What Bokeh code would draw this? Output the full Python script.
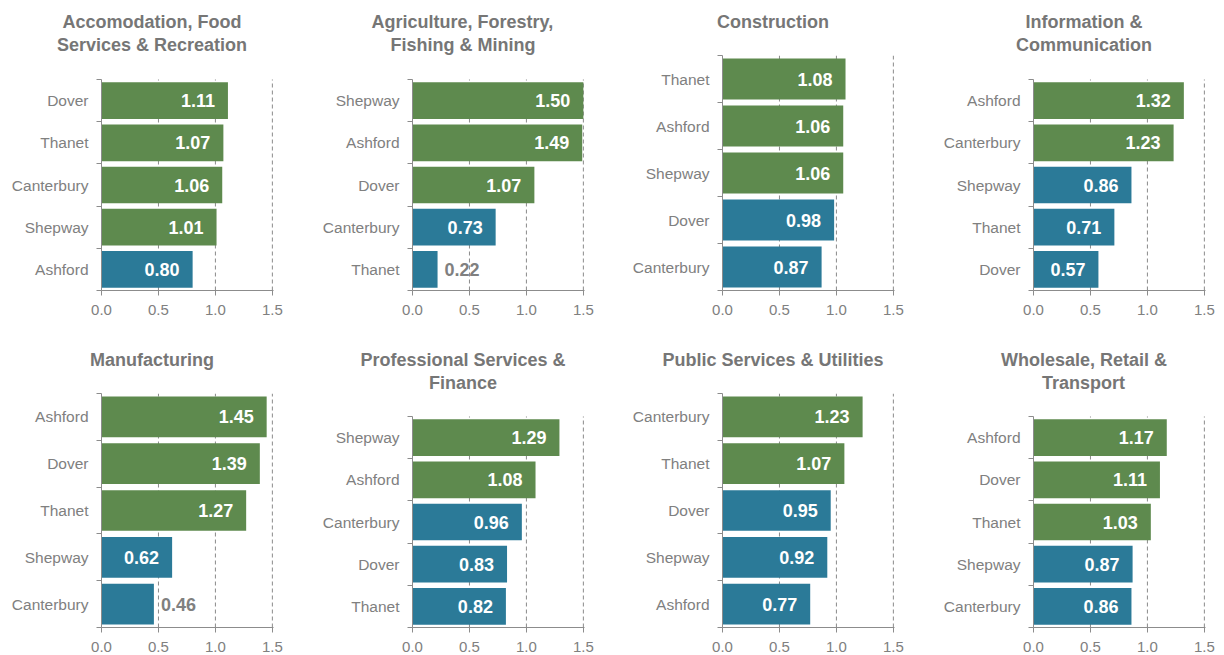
from bokeh.plotting import figure
from bokeh.layouts import row, column
from bokeh.models import Range1d, FixedTicker, PrintfTickFormatter, Title
from bokeh.embed import file_html
from bokeh.resources import INLINE
from bokeh.core.properties import value

# ---------------- data (location quotients by sector) ----------------
title_accom = ["Accomodation, Food", "Services & Recreation"]
districts_accom = ["Dover", "Thanet", "Canterbury", "Shepway", "Ashford"]
lq_accom = [1.11, 1.07, 1.06, 1.01, 0.80]

title_agri = ["Agriculture, Forestry,", "Fishing & Mining"]
districts_agri = ["Shepway", "Ashford", "Dover", "Canterbury", "Thanet"]
lq_agri = [1.50, 1.49, 1.07, 0.73, 0.22]

title_constr = ["Construction"]
districts_constr = ["Thanet", "Ashford", "Shepway", "Dover", "Canterbury"]
lq_constr = [1.08, 1.06, 1.06, 0.98, 0.87]

title_info = ["Information &", "Communication"]
districts_info = ["Ashford", "Canterbury", "Shepway", "Thanet", "Dover"]
lq_info = [1.32, 1.23, 0.86, 0.71, 0.57]

title_manu = ["Manufacturing"]
districts_manu = ["Ashford", "Dover", "Thanet", "Shepway", "Canterbury"]
lq_manu = [1.45, 1.39, 1.27, 0.62, 0.46]

title_prof = ["Professional Services &", "Finance"]
districts_prof = ["Shepway", "Ashford", "Canterbury", "Dover", "Thanet"]
lq_prof = [1.29, 1.08, 0.96, 0.83, 0.82]

title_public = ["Public Services & Utilities"]
districts_public = ["Canterbury", "Thanet", "Dover", "Shepway", "Ashford"]
lq_public = [1.23, 1.07, 0.95, 0.92, 0.77]

title_whole = ["Wholesale, Retail &", "Transport"]
districts_whole = ["Ashford", "Dover", "Thanet", "Shepway", "Canterbury"]
lq_whole = [1.17, 1.11, 1.03, 0.87, 0.86]

x_ticks = [0.0, 0.5, 1.0, 1.5]
grid_ticks = [0.5, 1.0, 1.5]

# ---------------- style ----------------
GREEN = "#5E8A4E"
BLUE = "#2B7A98"
GREY_TXT = "#808080"
TITLE_C = "#767676"
AXIS_C = "#8C8C8C"
GRID_C = "#8A8A8A"
FONT = "Liberation Sans"
TITLE_SIZE = 18

# Arial/Liberation Sans Bold advance widths (per 1000 em) for centring titles
BOLD_W = {"A": 722, "c": 556, "o": 611, "m": 889, "d": 611, "a": 556, "t": 333,
          "i": 278, "n": 611, ",": 278, " ": 278, "F": 611, "S": 667, "e": 556,
          "r": 389, "v": 556, "s": 556, "&": 722, "R": 722, "g": 611, "u": 611,
          "l": 278, "y": 556, "h": 611, "M": 833, "C": 722, "I": 278, "P": 667,
          "b": 611, "U": 722, "W": 944, "T": 611, "p": 611, "f": 333}


def text_w(s, size):
    return sum(BOLD_W.get(ch, 556) for ch in s) * size / 1000.0


def make_panel(title_lines, districts, values, width, height,
               top, bottom, right, extra_px, frame_h):
    n = len(districts)
    centers = [n - 1 - i for i in range(n)]
    bar_h = frame_h - extra_px
    y_top = n - 0.5 + extra_px / bar_h * n
    p = figure(width=width, height=height,
               x_range=Range1d(0, 1.51), y_range=Range1d(-0.5, y_top),
               output_backend="svg", toolbar_location=None,
               min_border_left=101, min_border_right=right,
               min_border_top=top, min_border_bottom=bottom)
    p.outline_line_color = None
    p.background_fill_color = "white"
    p.border_fill_color = "white"
    p.xgrid.grid_line_color = None
    p.ygrid.grid_line_color = None

    # dashed reference lines
    p.segment(x0=grid_ticks, x1=grid_ticks, y0=-0.5, y1=n - 0.5,
              line_color=GRID_C, line_dash="4 3", line_width=1)

    colors = [GREEN if v >= 1 else BLUE for v in values]
    p.hbar(y=centers, left=0, right=values, height=0.87,
           fill_color=colors, line_color=None)

    # value labels
    in_x = [v for v in values if v >= 0.5]
    in_y = [c for c, v in zip(centers, values) if v >= 0.5]
    in_t = [f"{v:.2f}" for v in values if v >= 0.5]
    out_x = [v for v in values if v < 0.5]
    out_y = [c for c, v in zip(centers, values) if v < 0.5]
    out_t = [f"{v:.2f}" for v in values if v < 0.5]
    p.text(x=in_x, y=in_y, text=in_t, x_offset=-13,
           text_align="right", text_baseline="middle", text_color="white",
           text_font=value(FONT), text_font_style="bold", text_font_size="18px")
    if out_x:
        p.text(x=out_x, y=out_y, text=out_t, x_offset=7,
               text_align="left", text_baseline="middle", text_color=GREY_TXT,
               text_font=value(FONT), text_font_style="bold", text_font_size="18px")

    # x axis
    xa = p.xaxis[0]
    xa.ticker = FixedTicker(ticks=x_ticks)
    xa.formatter = PrintfTickFormatter(format="%.1f")
    xa.axis_line_color = AXIS_C
    xa.major_tick_line_color = AXIS_C
    xa.major_tick_out = 5
    xa.major_tick_in = 0
    xa.minor_tick_line_color = None
    xa.major_label_standoff = 9
    xa.major_label_text_font = FONT
    xa.major_label_text_font_size = "15px"
    xa.major_label_text_color = GREY_TXT

    # y axis: labels at bar centres, small ticks at band boundaries
    ya = p.yaxis[0]
    ya.bounds = (-0.5, n - 0.5)
    ya.ticker = FixedTicker(ticks=centers, minor_ticks=[k - 0.5 for k in range(n + 1)])
    ya.major_label_overrides = {c: d for c, d in zip(centers, districts)}
    ya.axis_line_color = AXIS_C
    ya.major_tick_line_color = None
    ya.major_tick_out = 0
    ya.major_tick_in = 0
    ya.minor_tick_line_color = AXIS_C
    ya.minor_tick_out = 5
    ya.minor_tick_in = 0
    ya.major_label_standoff = 8
    ya.major_label_text_font = FONT
    ya.major_label_text_font_size = "15.5px"
    ya.major_label_text_color = GREY_TXT

    # titles: stacked above the frame, centred 35px left of the frame centre
    p.title = None
    lines = list(title_lines) if len(title_lines) == 2 else [title_lines[0], " "]
    standoffs = [2, 0]
    for line, so in zip(reversed(lines), standoffs):
        off = 50.5 - text_w(line, TITLE_SIZE) / 2.0
        p.add_layout(Title(text=line, align="left", offset=off, standoff=so,
                           vertical_align="bottom",
                           text_font=FONT, text_font_style="bold",
                           text_font_size=f"{TITLE_SIZE}px", text_color=TITLE_C),
                     "above")
    return p


widths = [311, 310, 311, 292]
rights = [38, 37, 38, 19]

row1_specs = [(title_accom, districts_accom, lq_accom),
              (title_agri, districts_agri, lq_agri),
              (title_constr, districts_constr, lq_constr),
              (title_info, districts_info, lq_info)]
row2_specs = [(title_manu, districts_manu, lq_manu),
              (title_prof, districts_prof, lq_prof),
              (title_public, districts_public, lq_public),
              (title_whole, districts_whole, lq_whole)]

row1 = []
for (t, d, v), w, r in zip(row1_specs, widths, rights):
    extra = 0 if len(t) == 1 else 24
    row1.append(make_panel(t, d, v, w, 330, 55, 40, r, extra, 235))

row2 = []
for (t, d, v), w, r in zip(row2_specs, widths, rights):
    extra = 0 if len(t) == 1 else 23
    row2.append(make_panel(t, d, v, w, 325, 63, 28, r, extra, 234))

layout = column(row(*row1), row(*row2))

with open("out.html", "w") as f:
    f.write(file_html(layout, INLINE))
